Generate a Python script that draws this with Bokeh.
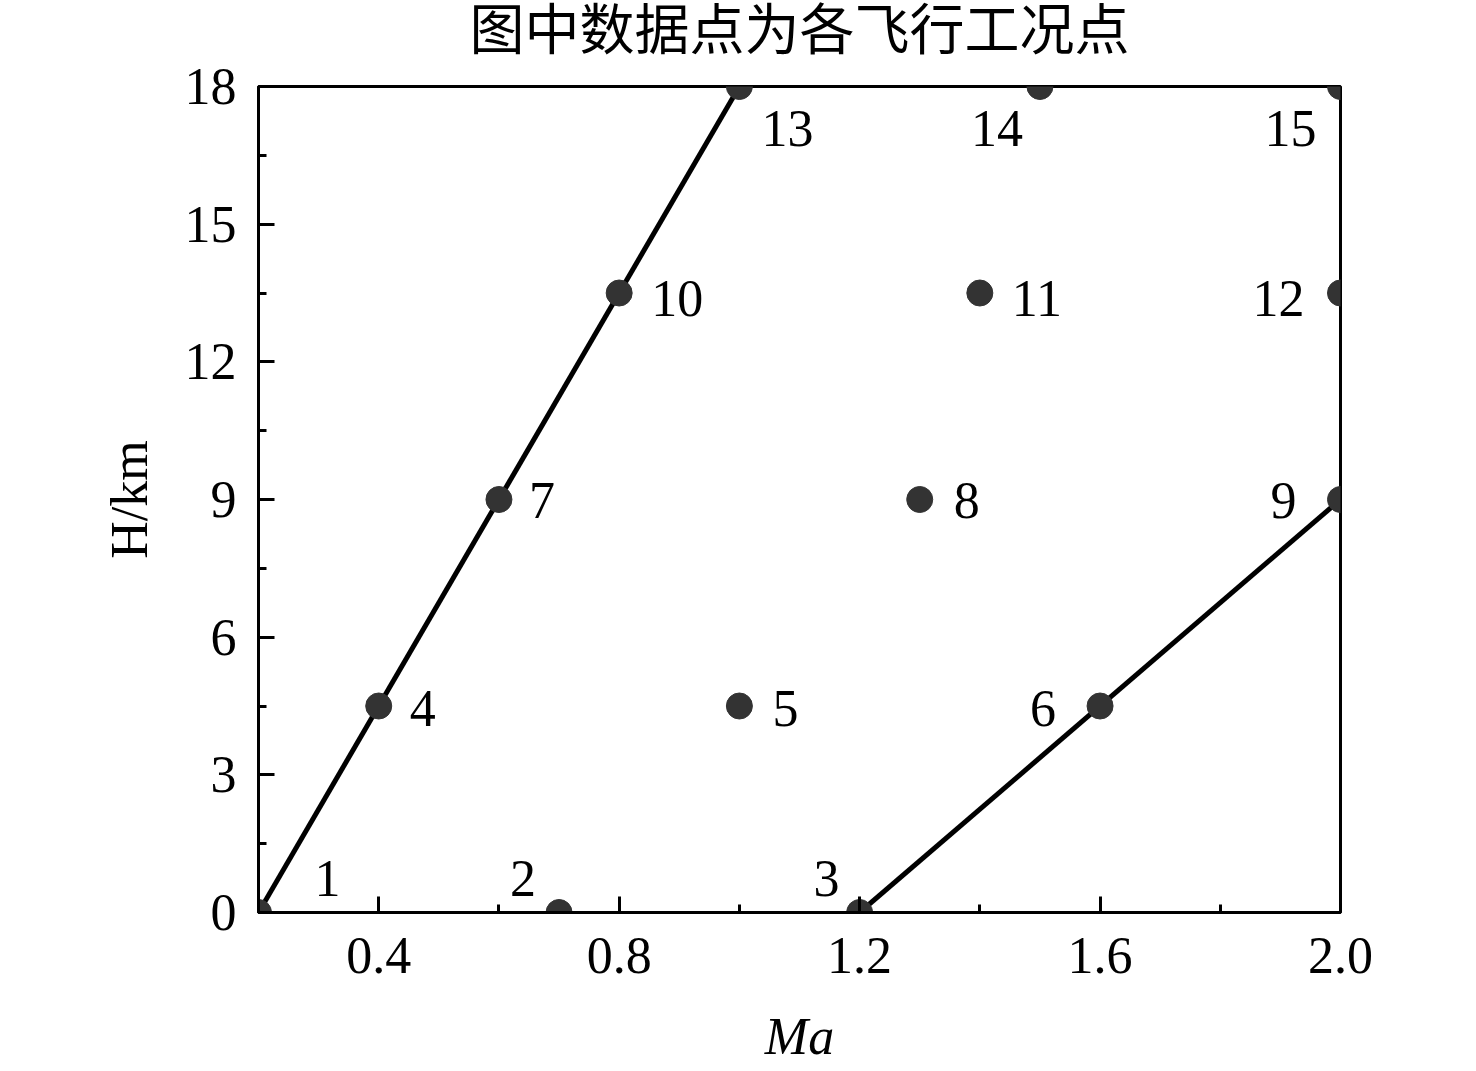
from bokeh.plotting import figure
from bokeh.models import ColumnDataSource, Range1d, FixedTicker
from bokeh.core.properties import value
from bokeh.embed import file_html
from bokeh.resources import INLINE

# ---- data ----
point_ids = ["1", "2", "3", "4", "5", "6", "7", "8", "9", "10", "11", "12", "13", "14", "15"]
mach = [0.2, 0.7, 1.2, 0.4, 1.0, 1.6, 0.6, 1.3, 2.0, 0.8, 1.4, 2.0, 1.0, 1.5, 2.0]
height_km = [0, 0, 0, 4.5, 4.5, 4.5, 9, 9, 9, 13.5, 13.5, 13.5, 18, 18, 18]

left_line_ma = [0.2, 1.0]
left_line_h = [0, 18]
right_line_ma = [1.2, 2.0]
right_line_h = [0, 9]

x_ticks = [0.4, 0.8, 1.2, 1.6, 2.0]
y_ticks = [0, 3, 6, 9, 12, 15, 18]

title_text = "图中数据点为各飞行工况点"
x_label = "Ma"
y_label = "H/km"

# ---- label placement (styling, screen px; +y is down) ----
lab_align = ["left", "right", "right", "left", "left", "right", "left", "left", "right",
             "left", "left", "right", "left", "right", "right"]
lab_dx = [56, -23, -20, 31, 33, -44, 30, 34, -44, 32, 32, -36, 22, -17, -24]
lab_dy = [-34, -34, -34, 2, 2, 2, 1, 1, 1, 5, 5, 5, 42, 42, 42]

SERIF = "Liberation Serif"
FS = "52px"
SHIFT = 60  # pull the figure up so the title sits near the top edge

p = figure(frame_width=1082, frame_height=826,
           min_border_left=258, min_border_right=136, min_border_top=86 + SHIFT,
           min_border_bottom=159,
           x_range=Range1d(0.2, 2.0), y_range=Range1d(0, 18),
           output_backend="svg", toolbar_location=None, title=title_text)
p.margin = (-SHIFT, 0, 0, 0)

p.title.align = "center"
p.title.text_font = "Liberation Serif, Noto Sans CJK SC"
p.title.text_font_size = "55px"
p.title.text_font_style = "normal"
p.title.text_color = "black"
p.title.standoff = 48
p.title.vertical_align = "top"

p.background_fill_color = "white"
p.border_fill_color = "white"
p.outline_line_color = "black"
p.outline_line_width = 3
p.xgrid.visible = False
p.ygrid.visible = False

for ax in (p.xaxis[0], p.yaxis[0]):
    ax.axis_line_width = 3
    ax.axis_line_color = "black"
    ax.major_tick_in = 16
    ax.major_tick_out = 0
    ax.minor_tick_in = 8
    ax.minor_tick_out = 0
    ax.major_tick_line_width = 3
    ax.minor_tick_line_width = 3
    ax.major_tick_line_color = "black"
    ax.minor_tick_line_color = "black"
    ax.major_label_text_font = SERIF
    ax.major_label_text_font_size = FS
    ax.major_label_text_color = "black"
    ax.axis_label_text_font = SERIF
    ax.axis_label_text_font_size = FS
    ax.axis_label_text_color = "black"

p.xaxis.ticker = FixedTicker(ticks=x_ticks, minor_ticks=[0.2, 0.6, 1.0, 1.4, 1.8])
p.yaxis.ticker = FixedTicker(ticks=y_ticks, minor_ticks=[1.5, 4.5, 7.5, 10.5, 13.5, 16.5])
p.xaxis.major_label_overrides = {t: f"{t:.1f}" for t in x_ticks}
p.xaxis.major_label_standoff = 25
p.yaxis.major_label_standoff = 22

p.xaxis.axis_label = x_label
p.xaxis.axis_label_text_font_style = "italic"
p.xaxis.axis_label_standoff = 32

p.yaxis.axis_label = y_label
p.yaxis.axis_label_text_font_style = "normal"
p.yaxis.axis_label_standoff = 24

# lines
p.line(left_line_ma, left_line_h, line_color="black", line_width=5)
p.line(right_line_ma, right_line_h, line_color="black", line_width=5)

# points
src = ColumnDataSource(dict(x=mach, y=height_km, t=point_ids, align=lab_align,
                            dx=lab_dx, dy=lab_dy))
p.scatter("x", "y", source=src, size=26, fill_color="#333333", line_color="#333333")

p.text("x", "y", text="t", source=src, x_offset="dx", y_offset="dy",
       text_align="align", text_baseline="middle",
       text_font=value(SERIF), text_font_size=FS, text_color="black")

open("out.html", "w").write(file_html(p, INLINE))
